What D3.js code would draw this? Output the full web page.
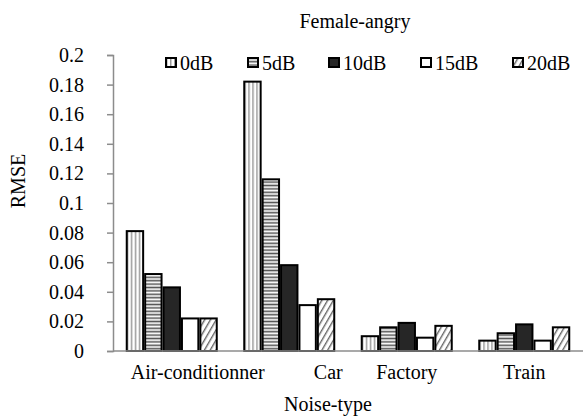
<!DOCTYPE html>
<html>
<head>
<meta charset="utf-8">
<script src="https://cdn.jsdelivr.net/npm/d3@7"></script>
<style>
  body { margin: 0; background: #fff; }
  text { font-family: "Liberation Serif", "Times New Roman", serif; fill: #000; }
</style>
</head>
<body>
<svg id="chart" width="584" height="419"></svg>
<script>
var categories = ["Air-conditionner", "Car", "Factory", "Train"];
var series = ["0dB", "5dB", "10dB", "15dB", "20dB"];
var values = {
  "0dB":  [0.081, 0.182, 0.010, 0.007],
  "5dB":  [0.052, 0.116, 0.016, 0.012],
  "10dB": [0.043, 0.058, 0.019, 0.018],
  "15dB": [0.022, 0.031, 0.009, 0.007],
  "20dB": [0.022, 0.035, 0.017, 0.016]
};
var yTicks = [0, 0.02, 0.04, 0.06, 0.08, 0.1, 0.12, 0.14, 0.16, 0.18, 0.2];

var svg = d3.select("#chart"),
  margin = {top: 55, right: 1, bottom: 68, left: 113},
  width = +svg.attr("width") - margin.left - margin.right,
  height = +svg.attr("height") - margin.top - margin.bottom,
  g = svg.append("g").attr("transform", "translate(" + margin.left + "," + margin.top + ")");

// fill patterns
var defs = svg.append("defs");
var pv = defs.append("pattern").attr("id", "pVert").attr("patternUnits", "userSpaceOnUse")
  .attr("width", 4).attr("height", 4);
pv.append("rect").attr("width", 4).attr("height", 4).attr("fill", "#fff");
pv.append("rect").attr("x", 1).attr("width", 1.5).attr("height", 4).attr("fill", "#9a9a9a");

var ph = defs.append("pattern").attr("id", "pHoriz").attr("patternUnits", "userSpaceOnUse")
  .attr("width", 4).attr("height", 3.4);
ph.append("rect").attr("width", 4).attr("height", 3.4).attr("fill", "#fff");
ph.append("rect").attr("y", 0.5).attr("width", 4).attr("height", 1.6).attr("fill", "#555");

var pd = defs.append("pattern").attr("id", "pDiag").attr("patternUnits", "userSpaceOnUse")
  .attr("width", 5).attr("height", 5).attr("patternTransform", "rotate(30)");
pd.append("rect").attr("width", 5).attr("height", 5).attr("fill", "#fff");
pd.append("rect").attr("width", 1.4).attr("height", 5).attr("fill", "#666");

var fills = {"0dB": "url(#pVert)", "5dB": "url(#pHoriz)", "10dB": "#262626", "15dB": "#fff", "20dB": "url(#pDiag)"};

var x0 = d3.scaleBand().domain(categories).range([0, width]).paddingInner(0.217).paddingOuter(0.1085);
var x1 = d3.scaleBand().domain(series).range([0, x0.bandwidth()]);
var y = d3.scaleLinear().domain([0, 0.2]).range([height, 0]);

// y axis
var yAxis = g.append("g")
  .call(d3.axisLeft(y).tickValues(yTicks).tickSize(6).tickPadding(23).tickFormat(function(d) { return String(+d.toFixed(2)); }));
yAxis.select(".domain").attr("stroke", "#8c8c8c").attr("stroke-width", 1.5);
yAxis.selectAll(".tick line").attr("stroke", "#8c8c8c").attr("stroke-width", 1.5);
yAxis.selectAll(".tick text").style("font-size", "20px").attr("fill", "#000");

// bars
var groups = g.selectAll(".grp").data(categories).enter().append("g")
  .attr("transform", function(c) { return "translate(" + x0(c) + ",0)"; });
groups.selectAll("rect").data(function(c, i) {
    return series.map(function(s) { return {s: s, v: values[s][i]}; });
  }).enter().append("rect")
  .attr("x", function(d) { return x1(d.s) + 1; })
  .attr("y", function(d) { return y(d.v); })
  .attr("width", x1.bandwidth() - 2)
  .attr("height", function(d) { return height - y(d.v); })
  .attr("fill", function(d) { return fills[d.s]; })
  .attr("stroke", "#000")
  .attr("stroke-width", 2);

// x axis
var xAxis = g.append("g").attr("transform", "translate(0," + height + ")")
  .call(d3.axisBottom(x0).tickSize(0).tickPadding(14));
xAxis.select(".domain").attr("stroke", "#8c8c8c").attr("stroke-width", 1.5).attr("d", "M0,0H" + width);
var labelShift = {"Air-conditionner": 26, "Car": 39, "Factory": 0, "Train": 0};
xAxis.selectAll(".tick text").style("font-size", "20px").attr("fill", "#000")
  .attr("dx", function(d) { return labelShift[d]; });

// title and axis labels
svg.append("text").attr("x", 355).attr("y", 28).attr("text-anchor", "middle")
  .style("font-size", "20px").text("Female-angry");
svg.append("text").attr("transform", "translate(25,181) rotate(-90)").attr("text-anchor", "middle")
  .style("font-size", "20px").text("RMSE");
svg.append("text").attr("x", 328).attr("y", 411).attr("text-anchor", "middle")
  .style("font-size", "20px").text("Noise-type");

// legend
var legendX = [165, 247, 328, 420, 512];
var leg = svg.append("g").selectAll("g").data(series).enter().append("g")
  .attr("transform", function(d, i) { return "translate(" + legendX[i] + ",57)"; });
leg.append("rect").attr("x", 1).attr("y", 1).attr("width", 10).attr("height", 9)
  .attr("fill", function(d) { return fills[d]; }).attr("stroke", "#000").attr("stroke-width", 2);
leg.append("text").attr("x", 15).attr("y", 13).style("font-size", "20px").text(function(d) { return d; });
</script>
</body>
</html>
